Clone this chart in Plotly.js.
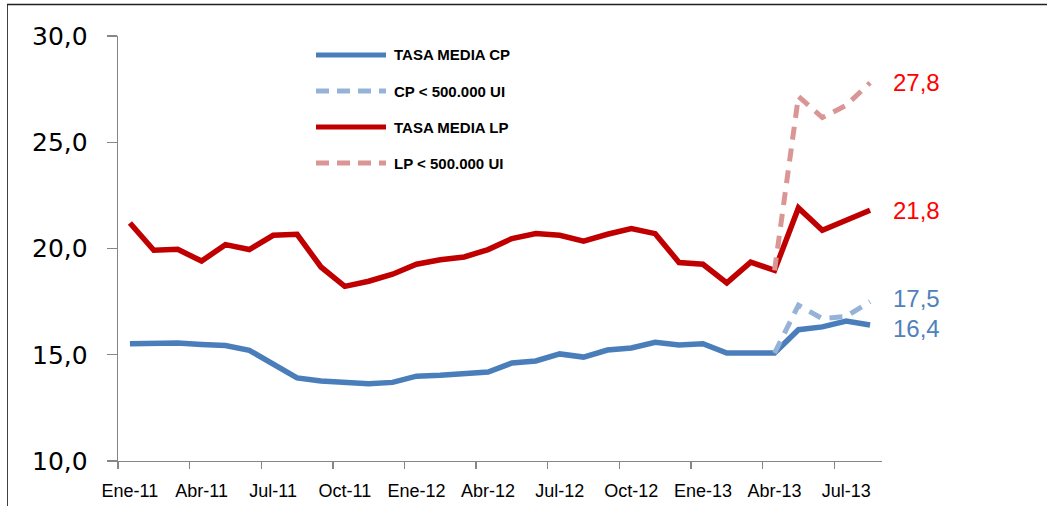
<!DOCTYPE html>
<html>
<head>
<meta charset="utf-8">
<script src="https://cdn.plot.ly/plotly-3.0.1.min.js"></script>
<style>
  html, body { margin: 0; padding: 0; background: #ffffff; }
  #chart { width: 1047px; height: 506px; }
</style>
</head>
<body>
<div id="chart"></div>
<script>
// ---- Data ----
const months = [
  "Ene-11","Feb-11","Mar-11","Abr-11","May-11","Jun-11","Jul-11","Ago-11","Sep-11","Oct-11","Nov-11","Dic-11",
  "Ene-12","Feb-12","Mar-12","Abr-12","May-12","Jun-12","Jul-12","Ago-12","Sep-12","Oct-12","Nov-12","Dic-12",
  "Ene-13","Feb-13","Mar-13","Abr-13","May-13","Jun-13","Jul-13","Ago-13"
];
const tickLabels = ["Ene-11","Abr-11","Jul-11","Oct-11","Ene-12","Abr-12","Jul-12","Oct-12","Ene-13","Abr-13","Jul-13"];

const tasaMediaCP = [15.52,15.55,15.55,15.48,15.43,15.21,14.58,13.91,13.76,13.67,13.64,13.70,
                     13.99,14.03,14.09,14.19,14.61,14.71,15.04,14.89,15.22,15.32,15.59,15.46,
                     15.52,15.08,15.08,15.08,16.18,16.31,16.59,16.4];
const cpMenor500 = [null,null,null,null,null,null,null,null,null,null,null,null,
                    null,null,null,null,null,null,null,null,null,null,null,null,
                    null,null,null,15.08,17.33,16.70,16.80,17.5];
const tasaMediaLP = [21.20,19.92,19.96,19.41,20.18,19.95,20.62,20.67,19.13,18.22,18.46,18.79,
                     19.26,19.47,19.60,19.95,20.47,20.70,20.62,20.35,20.67,20.94,20.70,19.34,
                     19.26,18.38,19.36,18.97,21.91,20.86,21.33,21.8];
const lpMenor500 = [null,null,null,null,null,null,null,null,null,null,null,null,
                    null,null,null,null,null,null,null,null,null,null,null,null,
                    null,null,null,18.97,27.16,26.16,26.74,27.8];

const seriesNames = ["TASA MEDIA CP","CP < 500.000 UI","TASA MEDIA LP","LP < 500.000 UI"];

// ---- Styles ----
const W = 1047, H = 506;
const M = {l: 118, r: 165, t: 36, b: 45};
const colCP = "#4A7EBB", colCPd = "#95B3D7", colLP = "#C00000", colLPd = "#D99694";
const axisGray = "#868686";

function px2x(px) { return (px - M.l) / (W - M.l - M.r); }
function py2y(py) { return (H - M.b - py) / (H - M.t - M.b); }

const traces = [
  {x: months, y: tasaMediaCP, name: seriesNames[0], type: "scatter", mode: "lines",
   line: {color: colCP, width: 5.5}, showlegend: false},
  {x: months, y: cpMenor500, name: seriesNames[1], type: "scatter", mode: "lines",
   line: {color: colCPd, width: 5, dash: "13px,9px"}, showlegend: false},
  {x: months, y: tasaMediaLP, name: seriesNames[2], type: "scatter", mode: "lines",
   line: {color: colLP, width: 5.5}, showlegend: false},
  {x: months, y: lpMenor500, name: seriesNames[3], type: "scatter", mode: "lines",
   line: {color: colLPd, width: 5, dash: "13px,9px"}, showlegend: false},
  // invisible trace to host the boundary tick marks axis
  {x: [-0.5, 31.5], y: [null, null], xaxis: "x2", yaxis: "y", type: "scatter", mode: "lines",
   showlegend: false, hoverinfo: "skip"}
];

function fmt(v) { return v.toFixed(1).replace(".", ","); }

const last = months.length - 1;
const endLabels = [
  {y: lpMenor500[last], color: "#FF0000", shift: 0},
  {y: tasaMediaLP[last], color: "#FF0000", shift: 0},
  {y: cpMenor500[last], color: "#4F81BD", shift: 3},
  {y: tasaMediaCP[last], color: "#4F81BD", shift: -3}
];

const annotations = endLabels.map(e => ({
  x: months[last], y: e.y, xref: "x", yref: "y",
  text: fmt(e.y), showarrow: false, xanchor: "left", yanchor: "middle",
  xshift: 21, yshift: e.shift,
  font: {family: "Liberation Sans, Arial, sans-serif", size: 24, color: e.color}
}));

// custom legend
const legendRows = [55, 91, 127, 163];
const legendStyles = [
  {color: colCP, dash: "solid", width: 5},
  {color: colCPd, dash: "dash", width: 5},
  {color: colLP, dash: "solid", width: 5},
  {color: colLPd, dash: "dash", width: 5}
];
const shapes = [];
legendRows.forEach((ry, i) => {
  shapes.push({type: "line", xref: "paper", yref: "paper",
    x0: px2x(316), x1: px2x(386), y0: py2y(ry), y1: py2y(ry),
    line: {color: legendStyles[i].color, width: legendStyles[i].width,
           dash: legendStyles[i].dash === "dash" ? "13px,8px" : "solid"}});
  annotations.push({xref: "paper", yref: "paper", x: px2x(392), y: py2y(ry),
    xanchor: "left", yanchor: "middle", showarrow: false, text: "<b>" + seriesNames[i] + "</b>",
    font: {family: "Liberation Sans, Arial, sans-serif", size: 15, color: "#000000"}});
});
// outer frame (left and top)
shapes.push({type: "line", xref: "paper", yref: "paper",
  x0: px2x(7.5), x1: px2x(7.5), y0: py2y(4.5), y1: py2y(506),
  line: {color: "#404040", width: 1}});
shapes.push({type: "line", xref: "paper", yref: "paper",
  x0: px2x(7), x1: px2x(1047), y0: py2y(4.5), y1: py2y(4.5),
  line: {color: "#202020", width: 1.5}});

const layout = {
  width: W, height: H,
  margin: M,
  paper_bgcolor: "#ffffff", plot_bgcolor: "#ffffff",
  separators: ",.",
  showlegend: false,
  xaxis: {
    type: "category", range: [-0.5, 31.5], categoryorder: "array", categoryarray: months,
    tickmode: "array", tickvals: tickLabels, ticktext: tickLabels,
    ticks: "", showgrid: false, zeroline: false,
    showline: true, linecolor: axisGray, linewidth: 1.3,
    tickfont: {family: "Liberation Sans, Arial, sans-serif", size: 18, color: "#000000"},
    ticklabelstandoff: 13, fixedrange: true
  },
  xaxis2: {
    type: "linear", overlaying: "x", side: "bottom", range: [-0.5, 31.5],
    tickmode: "array", tickvals: [-0.5, 2.5, 5.5, 8.5, 11.5, 14.5, 17.5, 20.5, 23.5, 26.5, 29.5],
    ticks: "outside", ticklen: 7, tickwidth: 1.3, tickcolor: axisGray,
    showticklabels: false, showgrid: false, zeroline: false, showline: false, fixedrange: true
  },
  yaxis: {
    range: [10, 30], tickmode: "linear", tick0: 10, dtick: 5, tickformat: ".1f",
    ticks: "outside", ticklen: 10, tickwidth: 1.3, tickcolor: axisGray,
    showline: true, linecolor: axisGray, linewidth: 1.3,
    showgrid: false, zeroline: false,
    tickfont: {family: "DejaVu Sans, Verdana, sans-serif", size: 25, color: "#000000"},
    ticklabelstandoff: 14, fixedrange: true
  },
  annotations: annotations,
  shapes: shapes
};

Plotly.newPlot("chart", traces, layout, {displayModeBar: false, staticPlot: true});
</script>
</body>
</html>
